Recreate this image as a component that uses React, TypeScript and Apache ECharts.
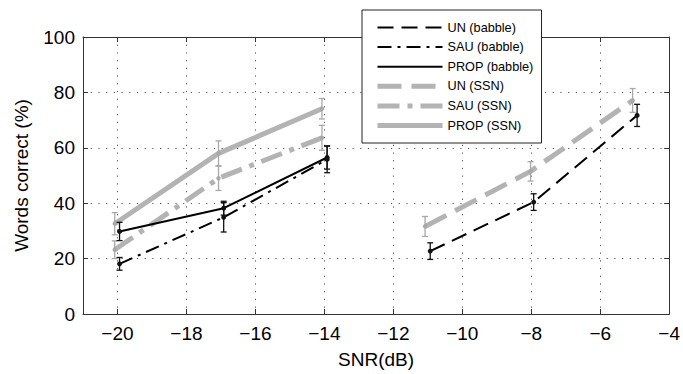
import React, { useEffect, useRef } from "react";
import * as echarts from "echarts";

const seriesNames = ["UN (babble)", "SAU (babble)", "PROP (babble)", "UN (SSN)", "SAU (SSN)", "PROP (SSN)"];

const snrBabbleLeft = [-19.94, -16.92, -13.92];
const snrSsnLeft = [-20.08, -17.07, -14.07];
const snrBabbleRight = [-10.93, -7.93, -4.93];
const snrSsnRight = [-11.08, -8.02, -5.06];

const unBabble = [22.7, 40.4, 71.7];
const unBabbleErr = [3, 3, 4];
const sauBabble = [18.1, 34.9, 55.8];
const sauBabbleErr = [2.3, 5.3, 4.8];
const propBabble = [29.8, 38.2, 56.5];
const propBabbleErr = [3.3, 2.5, 4.2];
const unSsn = [31.6, 51.5, 77.1];
const unSsnErr = [3.6, 3.5, 4.3];
const sauSsn = [23.2, 49.0, 63.6];
const sauSsnErr = [3.2, 4.4, 4.5];
const propSsn = [32.6, 58.0, 74.1];
const propSsnErr = [4.0, 4.5, 3.7];

const BLACK = "#000000";
const GRAY = "#b3b3b3";
const FONT = "'Liberation Sans', Arial, Helvetica, sans-serif";

export default function App() {
  const ref = useRef<HTMLDivElement>(null);
  useEffect(() => {
    if (!ref.current) return;
    const chart = echarts.init(ref.current, null, { renderer: "svg" });

    const defs = [
      { name: seriesNames[0], x: snrBabbleRight, y: unBabble, e: unBabbleErr, color: BLACK, width: 2, type: [16, 8] as any, dark: true },
      { name: seriesNames[1], x: snrBabbleLeft, y: sauBabble, e: sauBabbleErr, color: BLACK, width: 2, type: [14, 6, 3, 6] as any, dark: true },
      { name: seriesNames[2], x: snrBabbleLeft, y: propBabble, e: propBabbleErr, color: BLACK, width: 2, type: "solid" as any, dark: true },
      { name: seriesNames[3], x: snrSsnRight, y: unSsn, e: unSsnErr, color: GRAY, width: 5, type: [24, 10] as any, dark: false },
      { name: seriesNames[4], x: snrSsnLeft, y: sauSsn, e: sauSsnErr, color: GRAY, width: 5, type: [22, 8, 5, 8] as any, dark: false },
      { name: seriesNames[5], x: snrSsnLeft, y: propSsn, e: propSsnErr, color: GRAY, width: 5, type: "solid" as any, dark: false },
    ];

    const series: any[] = [];
    defs.forEach((d) => {
      series.push({
        name: d.name,
        type: "line",
        xAxisIndex: 0,
        yAxisIndex: 0,
        symbol: "none",
        showSymbol: false,
        z: d.dark ? 4 : 2,
        data: d.x.map((x, i) => [x, d.y[i]]),
        lineStyle: { color: d.color, width: d.width, type: d.type, cap: "butt" },
        itemStyle: { color: d.color },
      });
    });
    defs.forEach((d) => {
      series.push({
        type: "custom",
        xAxisIndex: 0,
        yAxisIndex: 0,
        z: d.dark ? 5 : 3,
        silent: true,
        data: d.x.map((x, i) => [x, d.y[i], d.e[i]]),
        renderItem: (params: any, api: any) => {
          const x = api.value(0);
          const y = api.value(1);
          const e = api.value(2);
          const p = api.coord([x, y]);
          const t = api.coord([x, y + e]);
          const b = api.coord([x, y - e]);
          const col = d.dark ? "#111" : "#a8a8a8";
          const st = { stroke: col, lineWidth: 1.3 };
          const cw = 3;
          return {
            type: "group",
            children: [
              { type: "line", shape: { x1: t[0], y1: t[1], x2: b[0], y2: b[1] }, style: st },
              { type: "line", shape: { x1: t[0] - cw, y1: t[1], x2: t[0] + cw, y2: t[1] }, style: st },
              { type: "line", shape: { x1: b[0] - cw, y1: b[1], x2: b[0] + cw, y2: b[1] }, style: st },
              { type: "circle", shape: { cx: p[0], cy: p[1], r: d.dark ? 2.5 : 2.2 }, style: { fill: col } },
            ],
          };
        },
      });
    });

    const axisLineStyle = { color: "#333", width: 1 };
    const grid = { left: 83, right: 6, top: 37, bottom: 58 };

    chart.setOption({
      animation: false,
      backgroundColor: "#ffffff",
      textStyle: { fontFamily: FONT },
      grid,
      legend: {
        data: seriesNames,
        orient: "vertical",
        left: 362,
        top: 10,
        padding: [11, 8, 11, 13],
        itemWidth: 65,
        itemHeight: 14,
        itemGap: 6.6,
        backgroundColor: "#ffffff",
        borderColor: "#222",
        borderWidth: 1,
        z: 10,
        itemStyle: { opacity: 0, borderWidth: 0 },
        lineStyle: { width: "inherit" },
        textStyle: { fontSize: 12.7, color: "#000", fontFamily: FONT },
        selectedMode: false,
      },
      xAxis: [
        {
          type: "value",
          min: -21,
          max: -4,
          splitNumber: 8,
          position: "bottom",
          name: "SNR(dB)",
          nameLocation: "middle",
          nameGap: 36,
          nameTextStyle: { fontSize: 19, color: "#000", fontFamily: FONT },
          axisLine: { show: true, onZero: false, lineStyle: axisLineStyle },
          axisTick: { show: true, inside: true, length: 5, lineStyle: axisLineStyle },
          axisLabel: {
            fontSize: 19,
            color: "#000",
            margin: 10,
            fontFamily: FONT,
            formatter: (v: number) => (v === -21 ? "" : v < 0 ? "\u2212" + Math.abs(v) : String(v)),
          },
          splitLine: { show: true, lineStyle: { color: "#555", width: 1, type: [1.2, 6.5] } },
        },
        {
          type: "value",
          min: -21,
          max: -4,
          splitNumber: 8,
          position: "top",
          axisLine: { show: true, onZero: false, lineStyle: axisLineStyle },
          axisTick: { show: true, inside: true, length: 5, lineStyle: axisLineStyle },
          axisLabel: { show: false },
          splitLine: { show: false },
        },
      ],
      yAxis: [
        {
          type: "value",
          min: 0,
          max: 100,
          interval: 20,
          position: "left",
          name: "Words correct (%)",
          nameLocation: "middle",
          nameGap: 52,
          nameTextStyle: { fontSize: 19, color: "#000", fontFamily: FONT },
          axisLine: { show: true, onZero: false, lineStyle: axisLineStyle },
          axisTick: { show: true, inside: true, length: 5, lineStyle: axisLineStyle },
          axisLabel: { fontSize: 19, color: "#000", margin: 8, fontFamily: FONT },
          splitLine: { show: true, lineStyle: { color: "#555", width: 1, type: [1.2, 6.5] } },
        },
        {
          type: "value",
          min: 0,
          max: 100,
          interval: 20,
          position: "right",
          axisLine: { show: true, onZero: false, lineStyle: axisLineStyle },
          axisTick: { show: true, inside: true, length: 5, lineStyle: axisLineStyle },
          axisLabel: { show: false },
          splitLine: { show: false },
        },
      ],
      series,
    });
    return () => chart.dispose();
  }, []);
  return (
    <div
      ref={ref}
      style={{ position: "fixed", left: 0, top: 0, width: 683, height: 374, background: "#fff" }}
    />
  );
}
